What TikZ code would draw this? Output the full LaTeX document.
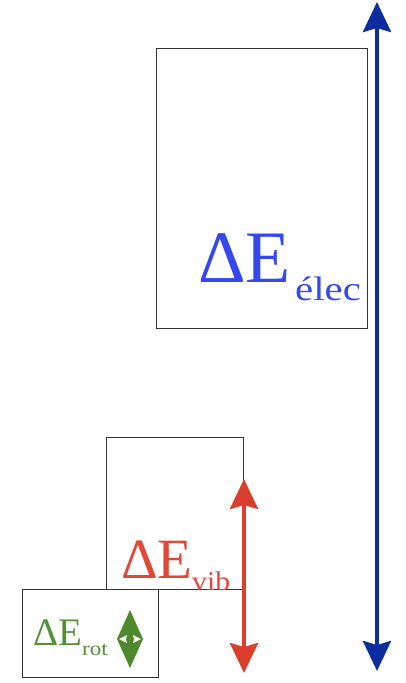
\documentclass[tikz,border=0pt]{standalone}
\usepackage{fontspec}
\usepackage{graphicx}
\setmainfont{Liberation Serif}
\usetikzlibrary{arrows.meta}
\definecolor{elecblue}{RGB}{52,72,238}
\definecolor{arrblue}{RGB}{12,44,160}
\definecolor{vibred}{RGB}{226,72,56}
\definecolor{arrred}{RGB}{220,62,44}
\definecolor{rotgreen}{RGB}{84,144,52}
\definecolor{arrgreen}{RGB}{78,138,44}
\tikzset{
  levelbox/.style={draw=black!80, line width=0.9pt},
  lbl/.style={inner sep=0pt, anchor=base west},
  dblarrow/.style={line width=4pt, {Stealth[length=30pt,width=28pt,inset=4pt]}-{Stealth[length=30pt,width=28pt,inset=4pt]}},
}
\begin{document}
\begin{tikzpicture}[x=1pt,y=-1pt]
\useasboundingbox (0,0) rectangle (405,683);
% boxes
\draw[levelbox] (156,48) rectangle (367,328);
\draw[levelbox] (106,437) rectangle (243,589);
\draw[levelbox] (22,589) rectangle (158,677);
% labels
\node[lbl, text=elecblue, font=\fontsize{74}{74}\selectfont] (elec) at (198,282) {ΔE};
\node[lbl, text=elecblue, font=\fontsize{34}{34}\selectfont] (elecs) at (295,300) {\scalebox{1.2}[1]{élec}};
\node[lbl, text=vibred, font=\fontsize{57}{57}\selectfont] (vib) at (121,578) {ΔE};
\node[lbl, text=vibred, font=\fontsize{27}{27}\selectfont] (vibs) at (192,590) {\scalebox{1.1}[1]{vib}};
\node[lbl, text=rotgreen, font=\fontsize{39}{39}\selectfont] (rot) at (33,645) {ΔE};
\node[lbl, text=rotgreen, font=\fontsize{20}{20}\selectfont] (rots) at (82,655) {\scalebox{1.15}[1]{rot}};
% arrows
\coordinate (btop) at (377,2);
\coordinate (bbot) at (377,671);
\draw[dblarrow, draw=arrblue, fill=arrblue] (btop) -- (bbot);
\coordinate (rtop) at (244,479);
\coordinate (rbot) at (244,673);
\draw[dblarrow, draw=arrred, fill=arrred] (rtop) -- (rbot);
% small green double arrow
\fill[arrgreen] (130,610) -- (143,639) -- (130,668) -- (117,639) -- cycle;
\fill[white] (119,639) -- (127,635) -- (126,639) -- (127,643) -- cycle;
\fill[white] (141,639) -- (133,635) -- (134,639) -- (133,643) -- cycle;
\end{tikzpicture}
\end{document}
